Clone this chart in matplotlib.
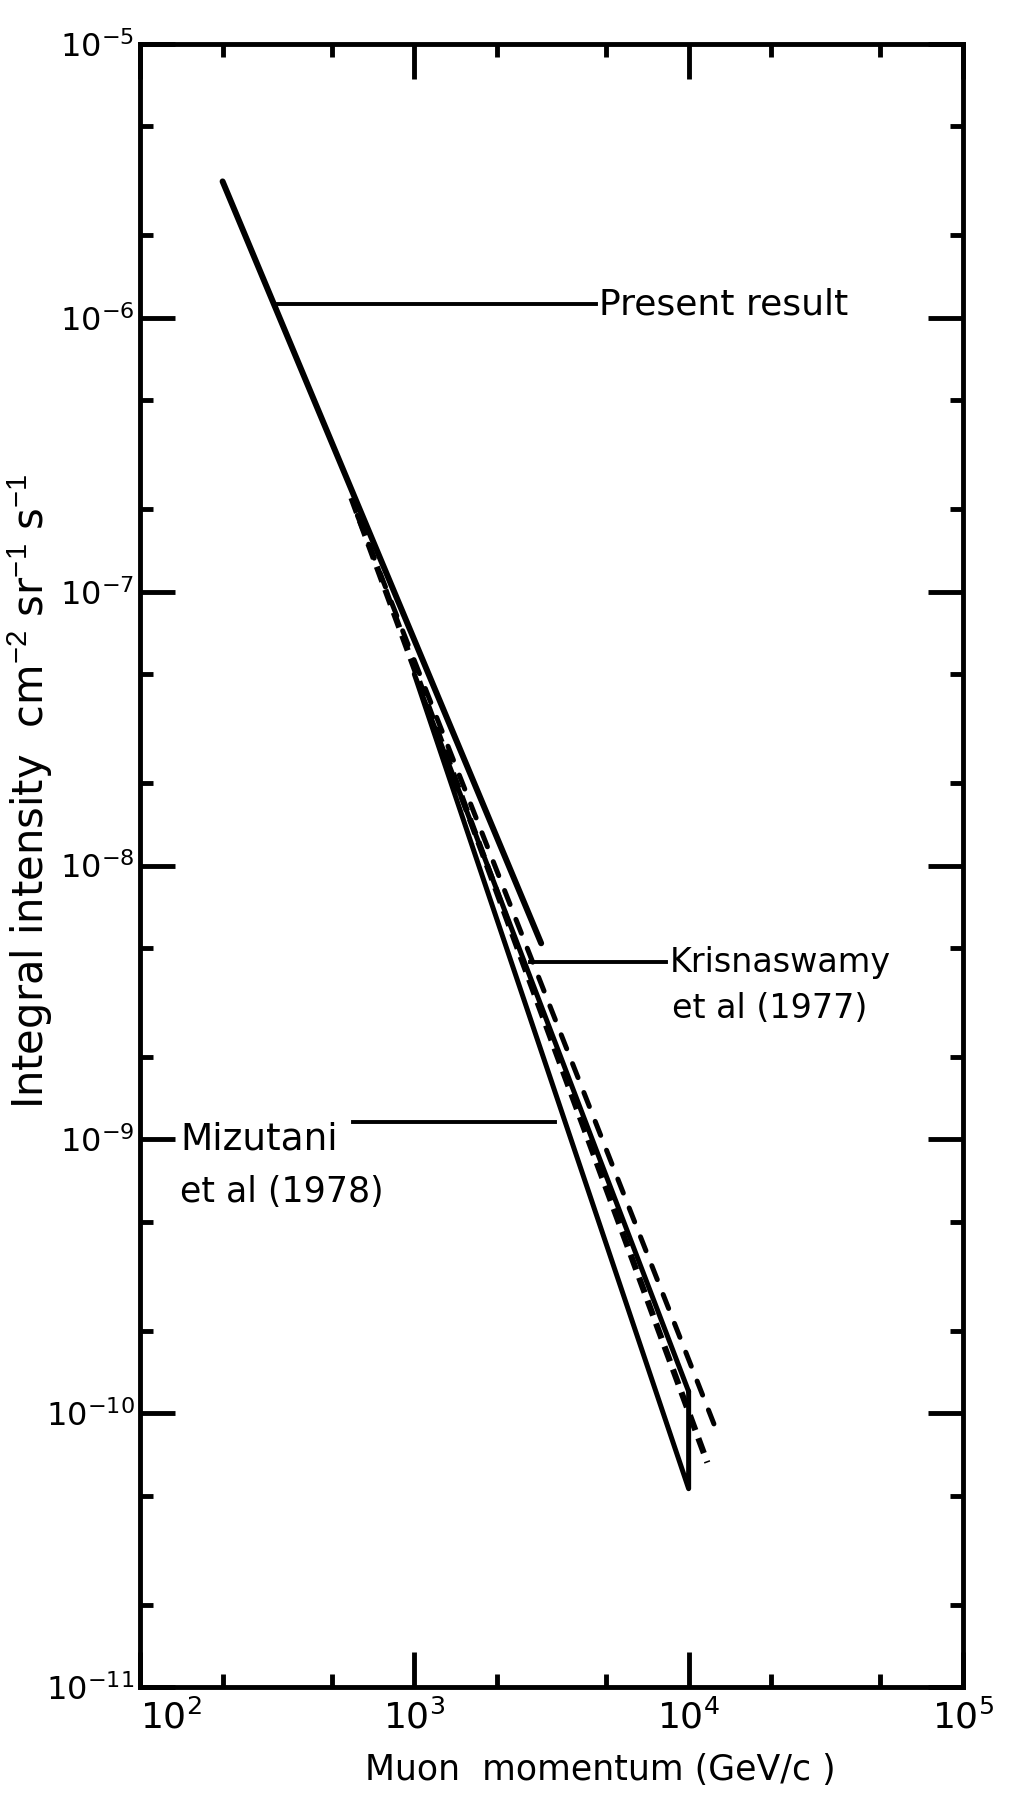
import numpy as np
import matplotlib.pyplot as plt
from matplotlib.ticker import LogLocator, NullFormatter

# muon momentum (GeV/c) against integral intensity (cm^-2 sr^-1 s^-1)
present_p = [200, 2900]
present_i = [3.15e-6, 5.2e-9]

kris_upper_p = [620, 12900]
kris_upper_i = [1.9e-7, 8.2e-11]

kris_lower_p = [590, 11700]
kris_lower_i = [2.2e-7, 6.6e-11]

# Mizutani band: upper end -> apex -> lower end -> back up at 10^4
mizu_p = [10000, 1000, 10000, 10000]
mizu_i = [1.2e-10, 5.0e-8, 5.3e-11, 1.2e-10]

# leader lines from the curves to their labels
present_lead = ([310, 4600], [1.12e-6, 1.12e-6])
kris_lead = ([2640, 8300], [4.43e-9, 4.43e-9])
mizu_lead = ([600, 3250], [1.16e-9, 1.16e-9])

x_decades = [1e2, 1e3, 1e4, 1e5]
y_decades = [1e-11, 1e-10, 1e-9, 1e-8, 1e-7, 1e-6, 1e-5]

plt.rcParams['font.family'] = ['DejaVu Sans']
plt.rcParams['mathtext.fontset'] = 'custom'
plt.rcParams['mathtext.rm'] = 'Liberation Sans'
plt.rcParams['mathtext.it'] = 'Liberation Sans'
plt.rcParams['mathtext.bf'] = 'Liberation Sans'

fig = plt.figure(figsize=(10.19, 17.97), dpi=100)
ax = fig.add_axes([0.1374, 0.0612, 0.8076, 0.9143])
ax.set_xscale('log')
ax.set_yscale('log')

ax.plot(present_p, present_i, color='black', lw=4.3, solid_capstyle='round')
ax.plot(kris_upper_p, kris_upper_i, color='black', lw=3.6,
        linestyle=(0, (3, 3.2)), dash_capstyle='round')
ax.plot(kris_lower_p, kris_lower_i, color='black', lw=4.4,
        linestyle=(0, (2.6, 1.4)), dash_capstyle='butt')
ax.plot(mizu_p, mizu_i, color='black', lw=3.6, solid_joinstyle='round',
        solid_capstyle='round')

for lead in (present_lead, kris_lead, mizu_lead):
    ax.plot(lead[0], lead[1], color='black', lw=2.8)

ax.text(4700, 1.12e-6, 'Present result', fontsize=26, ha='left', va='center')
ax.text(8500, 4.43e-9, 'Krisnaswamy', fontsize=24, ha='left', va='center')
ax.text(8700, 3.0e-9, 'et al (1977)', fontsize=24, ha='left', va='center')
ax.text(140, 1.0e-9, 'Mizutani', fontsize=27, ha='left', va='center')
ax.text(140, 6.4e-10, 'et al (1978)', fontsize=25, ha='left', va='center')

ax.set_xticks(x_decades)
ax.set_yticks(y_decades)
ax.xaxis.set_minor_locator(LogLocator(base=10, subs=(2, 5), numticks=10))
ax.yaxis.set_minor_locator(LogLocator(base=10, subs=(2, 5), numticks=10))
ax.xaxis.set_minor_formatter(NullFormatter())
ax.yaxis.set_minor_formatter(NullFormatter())
ax.set_xlim(1e2, 1e5)
ax.set_ylim(1e-11, 1e-5)

ax.tick_params(which='both', direction='in', top=True, right=True, width=3.5)
ax.tick_params(which='major', length=25)
ax.tick_params(which='minor', length=9.5)
ax.tick_params(axis='x', pad=9, labelsize=26)
ax.tick_params(axis='y', pad=4, labelsize=23)
for s in ax.spines.values():
    s.set_linewidth(3.5)

ax.get_xticklabels()[0].set_ha('left')

ax.set_xlabel('Muon  momentum (GeV/c )', fontsize=25)
ax.xaxis.set_label_coords(0.559, -0.040)
ax.set_ylabel('Integral intensity  cm$^{-2}$ sr$^{-1}$ s$^{-1}$', fontsize=30)
ax.yaxis.set_label_coords(-0.103, 0.545)

fig.savefig('out.png', dpi=100)
